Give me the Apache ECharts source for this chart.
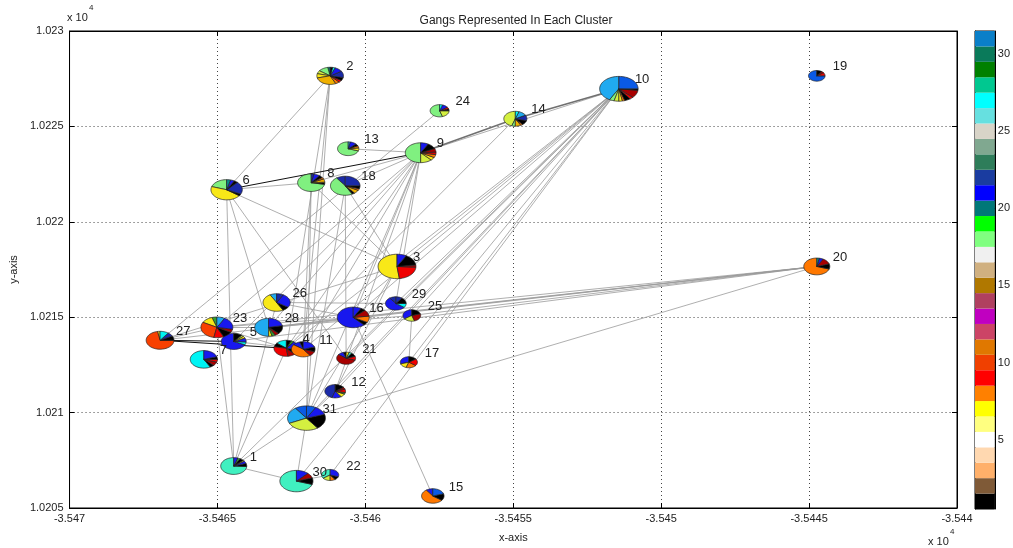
<!DOCTYPE html>
<html>
<head>
<meta charset="utf-8">
<script src="https://cdn.jsdelivr.net/npm/echarts@6/dist/echarts.min.js"></script>
<style>
html, body { margin: 0; padding: 0; background: #fff; }
#chart { width: 1013px; height: 548px; }
</style>
</head>
<body>
<div id="chart"></div>
<script>
// Cluster centres (map units) and pie radius (x-units)
const nodeIds = [1,2,3,4,5,6,7,8,9,10,11,12,13,14,15,16,17,18,19,20,21,22,23,24,25,26,27,28,29,30,31];
const nodeX = [-35464.45, -35461.19, -35458.93, -35462.67, -35464.45, -35464.69, -35465.46, -35461.83, -35458.13, -35451.43,
               -35462.10, -35461.02, -35460.58, -35454.93, -35457.72, -35460.41, -35458.53, -35460.68, -35444.74, -35444.74,
               -35460.65, -35461.19, -35465.02, -35457.49, -35458.43, -35463.00, -35466.94, -35463.27, -35458.97, -35462.33, -35461.99];
const nodeY = [10207.20, 10227.65, 10217.66, 10213.37, 10213.73, 10221.68, 10212.79, 10222.05, 10223.62, 10226.97,
               10213.32, 10211.12, 10223.83, 10225.40, 10205.63, 10214.99, 10212.64, 10221.89, 10227.65, 10217.66,
               10212.85, 10206.73, 10214.47, 10225.82, 10215.09, 10215.77, 10213.79, 10214.47, 10215.72, 10206.41, 10209.71];
const nodeR = [0.44, 0.45, 0.64, 0.42, 0.42, 0.53, 0.46, 0.46, 0.52, 0.65,
               0.40, 0.35, 0.36, 0.39, 0.38, 0.54, 0.29, 0.50, 0.28, 0.44,
               0.32, 0.29, 0.54, 0.32, 0.30, 0.46, 0.47, 0.47, 0.35, 0.56, 0.64];

// Gang shares per cluster, counter-clockwise from 12 o'clock
const slices = [
  [['AQ',74],['K',6],['B',5],['Y',2],['K',5],['G',3],['B',5]],
  [['T',3],['LG',12],['YG',6],['Y',8],['GO',28],['O',5],['R',4],['K',6],['DB',12],['B',10],['C',3],['K',3]],
  [['Y',52],['R',22],['DR',3],['K',15],['B',8]],
  [['C',14],['K',8],['R',30],['DR',10],['K',10],['B',18],['G',4],['K',6]],
  [['B',68],['C',6],['B',8],['Y',4],['YG',3],['K',11]],
  [['LG',20],['Y',45],['K',3],['DB',20],['K',4],['B',4],['T',4]],
  [['C',58],['K',5],['DR',7],['R',5],['K',5],['B',20]],
  [['LG',72],['K',4],['GO',6],['O',3],['K',5],['B',7],['DB',3]],
  [['LG',50],['YG',12],['Y',5],['O',5],['R',4],['DR',6],['K',10],['B',8]],
  [['LB',42],['LG',4],['YG',4],['Y',3],['O',2],['K',5],['R',3],['DR',10],['K',2],['MB',25]],
  [['K',5],['B',10],['O',45],['DR',10],['K',10],['B',20]],
  [['DB',45],['B',15],['Y',8],['G',4],['R',8],['DR',5],['K',15]],
  [['LG',70],['Y',7],['O',5],['K',5],['B',10],['LB',3]],
  [['YG',45],['LG',5],['GO',8],['O',3],['K',10],['DB',12],['LB',12],['C',5]],
  [['B',10],['O',55],['K',15],['MB',20]],
  [['B',62],['K',5],['O',10],['DR',10],['K',5],['B',8]],
  [['B',30],['Y',15],['O',20],['R',20],['K',15]],
  [['DB',10],['LG',48],['K',3],['GO',6],['O',3],['K',5],['DB',25]],
  [['MB',75],['R',10],['DR',5],['K',10]],
  [['O',70],['K',10],['DR',12],['B',5],['T',3]],
  [['K',5],['B',10],['DR',55],['R',10],['K',10],['AQ',5],['Y',5]],
  [['AQ',35],['YG',15],['O',10],['K',10],['B',30]],
  [['G',5],['Y',12],['RO',30],['R',10],['K',10],['DR',5],['B',20],['LB',8]],
  [['LG',55],['YG',20],['K',5],['R',5],['B',10],['C',5]],
  [['B',35],['YG',20],['DR',25],['K',20]],
  [['LB',8],['Y',50],['K',8],['B',26],['DB',8]],
  [['Y',3],['RO',72],['K',8],['DB',7],['C',10]],
  [['LB',50],['Y',4],['G',4],['DR',5],['K',15],['B',22]],
  [['DB',10],['B',55],['C',10],['K',15],['DB',10]],
  [['AQ',70],['K',10],['DR',8],['B',12]],
  [['MB',10],['LB',22],['YG',28],['K',20],['B',12],['MB',8]]
];

// Links between clusters
const edges = [
  [2,6],[2,4],[2,11],[2,31],
  [6,8],[6,28],[6,21],
  [9,8],[9,18],[9,13],[9,10],[9,3],[9,16],[9,12],[9,31],[9,28],[9,23],[9,4],[9,11],[9,5],[9,29],
  [10,3],[10,16],[10,29],[10,25],[10,21],[10,12],[10,31],[10,1],[10,30],[10,22],[10,17],[10,11],[10,4],
  [20,27],[20,23],[20,28],[20,5],[20,16],[20,31],[20,25],
  [27,23],[23,28],[23,4],[28,25],[28,16],[5,11],[23,16],
  [1,31],[1,30],[1,26],[1,4],[1,6],[1,23],
  [30,31],[30,22],[31,12],[31,3],[31,18],[31,8],[8,11],[18,21],
  [3,18],[3,8],[3,6],[3,12],[3,27],
  [15,16],[17,25],[24,27],[14,4],[26,16],[26,29]
];
const strongEdges = [[6,9],[27,4],[27,5]];
const doubledEdges = [[9,14],[14,10]];

// Colour bar: gang index 1..31, bottom to top
const gangColors = ['#000000','#7f5a37','#ffb06a','#ffd8b0','#ffffff','#ffff80','#ffff00','#ff8000','#ff0000','#f04000',
                    '#e07800','#cc4466','#c000c0','#b04060','#b07800','#d0b080','#f0f0f0','#80ff80','#00ff00','#007878',
                    '#0000ff','#1a3ca0','#2e7d5a','#80a890','#d8d4c8','#66e0e0','#00ffff','#00c890','#008000','#0a7a5a','#0a7fc8'];
const gangTicks = [5, 10, 15, 20, 25, 30];

const palette = {
  K:'#000000', B:'#1818ee', DB:'#1a2aa8', MB:'#0a5ae6', LB:'#20aaf0', C:'#00f4f4', AQ:'#40f0c0', T:'#0a8c8c',
  G:'#30a030', LG:'#80f080', YG:'#d4f040', Y:'#f8e818', GO:'#f0b000', O:'#ff7800', RO:'#f84000', R:'#f00000', DR:'#a80000'
};

const chart = echarts.init(document.getElementById('chart'));
const fmt1e4 = v => String(parseFloat((v / 1e4).toFixed(5)));
const textColor = '#222';
const fontFamily = 'Liberation Sans, Arial, sans-serif';

function pieItem(params, api) {
  const i = api.value(3);
  const c = api.coord([api.value(0), api.value(1)]);
  const s = api.size([api.value(2), api.value(2)]);
  const rx = s[0], ry = s[1];
  const parts = slices[i];
  const total = parts.reduce((a, p) => a + p[1], 0);
  let a0 = Math.PI / 2;
  const children = [];
  parts.forEach(([key, w]) => {
    const a1 = a0 + (w / total) * Math.PI * 2;
    const n = Math.max(2, Math.ceil(72 * w / total));
    const pts = [[c[0], c[1]]];
    for (let k = 0; k <= n; k++) {
      const a = a0 + (a1 - a0) * k / n;
      pts.push([c[0] + rx * Math.cos(a), c[1] - ry * Math.sin(a)]);
    }
    children.push({ type: 'polygon', shape: { points: pts },
      style: { fill: palette[key], stroke: '#222', lineWidth: 0.7 } });
    a0 = a1;
  });
  children.push({ type: 'text', style: {
    text: String(nodeIds[i]), x: c[0] + 16, y: c[1] - 9,
    verticalAlign: 'middle', align: 'left', fill: textColor, fontSize: 13, fontFamily } });
  return { type: 'group', children };
}

function barItem(params, api) {
  const k = api.value(0);
  const p0 = api.coord([0, k - 0.5]);
  const p1 = api.coord([1, k + 0.5]);
  return { type: 'rect', shape: { x: p0[0], y: p1[1], width: p1[0] - p0[0], height: p0[1] - p1[1] },
    style: { fill: gangColors[k - 1] } };
}

const link = ([a, b]) => [[nodeX[a-1], nodeY[a-1]], [nodeX[b-1], nodeY[b-1]]];
const linkData = edges.map(e => ({ coords: link(e) }))
  .concat(doubledEdges.map(e => ({ coords: link(e), lineStyle: { color: '#707070', width: 1.6 } })))
  .concat(strongEdges.map(e => ({ coords: link(e), lineStyle: { color: '#111', width: 1 } })));

const tickStyle = { inside: true, length: 5, lineStyle: { color: '#000' } };
const axisLine = { show: true, onZero: false, lineStyle: { color: '#000' } };
const gridDots = { show: true, lineStyle: { color: '#444', type: [1, 3], width: 1 } };

chart.setOption({
  animation: false,
  backgroundColor: '#fff',
  title: { text: 'Gangs Represented In Each Cluster', left: 511, top: 10, textAlign: 'center',
    textStyle: { fontSize: 12, fontWeight: 'normal', color: textColor, fontFamily } },
  grid: [
    { left: 65, top: 31, width: 892, height: 478, show: true, borderColor: '#000', borderWidth: 1, backgroundColor: 'transparent' },
    { left: 975, top: 31, width: 25, height: 478, show: true, borderColor: '#000', borderWidth: 1 }
  ],
  xAxis: [
    { gridIndex: 0, type: 'value', min: -35470, max: -35440, interval: 5, position: 'bottom',
      axisLine, axisTick: tickStyle, splitLine: gridDots,
      axisLabel: { formatter: fmt1e4, color: textColor, fontSize: 11, margin: 5, fontFamily },
      name: 'x-axis', nameLocation: 'middle', nameGap: 24,
      nameTextStyle: { color: textColor, fontSize: 11, fontFamily } },
    { gridIndex: 0, type: 'value', min: -35470, max: -35440, interval: 5, position: 'top',
      axisLine, axisTick: tickStyle, splitLine: { show: false }, axisLabel: { show: false } },
    { gridIndex: 1, type: 'value', min: 0, max: 1, show: false }
  ],
  yAxis: [
    { gridIndex: 0, type: 'value', min: 10205, max: 10230, interval: 5, position: 'left',
      axisLine, axisTick: tickStyle, splitLine: gridDots,
      axisLabel: { formatter: fmt1e4, color: textColor, fontSize: 11, margin: 6, fontFamily },
      name: 'y-axis', nameLocation: 'middle', nameGap: 46, nameRotate: 90,
      nameTextStyle: { color: textColor, fontSize: 11, fontFamily } },
    { gridIndex: 0, type: 'value', min: 10205, max: 10230, interval: 5, position: 'right',
      axisLine, axisTick: tickStyle, splitLine: { show: false }, axisLabel: { show: false } },
    { gridIndex: 1, type: 'value', min: 0.5, max: 31.5, position: 'right',
      axisLine, splitLine: { show: false },
      axisTick: { inside: true, length: 4, lineStyle: { color: '#000' }, customValues: gangTicks },
      axisLabel: { customValues: gangTicks, color: textColor, fontSize: 11, margin: 3, fontFamily } },
    { gridIndex: 1, type: 'value', min: 0.5, max: 31.5, position: 'left',
      axisLine, splitLine: { show: false },
      axisTick: { inside: true, length: 4, lineStyle: { color: '#000' }, customValues: gangTicks },
      axisLabel: { show: false } }
  ],
  graphic: [
    { type: 'text', left: 67, top: 12, style: { text: 'x 10', fontSize: 11, fill: textColor, fontFamily } },
    { type: 'text', left: 89, top: 4, style: { text: '4', fontSize: 8, fill: textColor, fontFamily } },
    { type: 'text', left: 928, top: 536, style: { text: 'x 10', fontSize: 11, fill: textColor, fontFamily } },
    { type: 'text', left: 950, top: 528, style: { text: '4', fontSize: 8, fill: textColor, fontFamily } }
  ],
  series: [
    { type: 'lines', coordinateSystem: 'cartesian2d', xAxisIndex: 0, yAxisIndex: 0, silent: true, z: 2,
      lineStyle: { color: '#9a9a9a', width: 0.8, opacity: 1, curveness: 0 }, data: linkData },
    { type: 'custom', xAxisIndex: 0, yAxisIndex: 0, silent: true, z: 3, clip: false,
      renderItem: pieItem, encode: { x: 0, y: 1 },
      data: nodeIds.map((id, i) => [nodeX[i], nodeY[i], nodeR[i], i]) },
    { type: 'custom', xAxisIndex: 2, yAxisIndex: 2, silent: true, z: 2,
      renderItem: barItem, encode: { y: 0 },
      data: gangColors.map((c, i) => [i + 1]) }
  ]
});
</script>
</body>
</html>
